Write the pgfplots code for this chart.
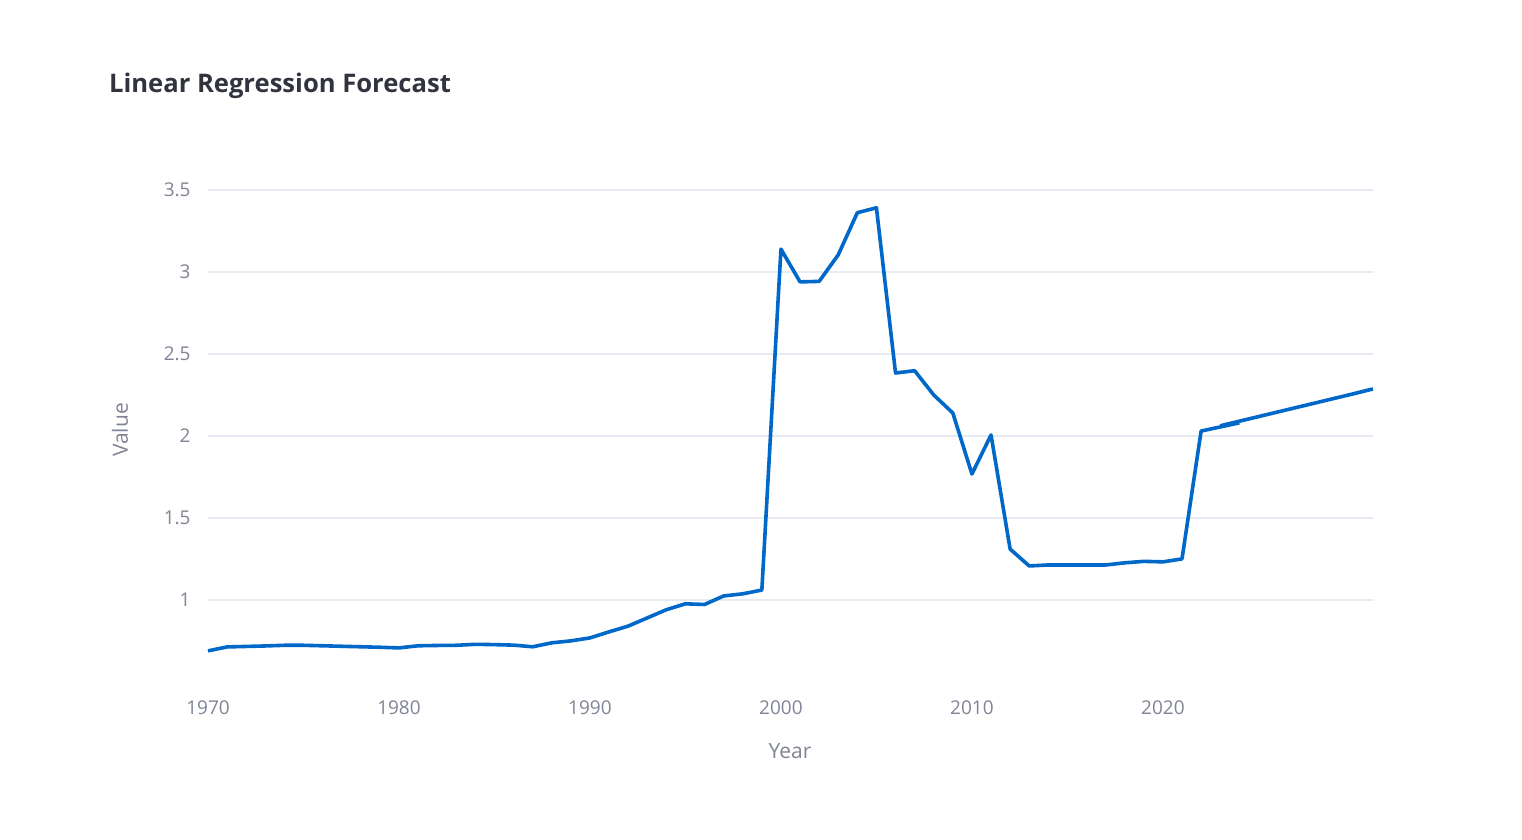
\documentclass[border=0pt]{standalone}
\usepackage{pgfplots}
\pgfplotsset{compat=1.18}
\usepackage{fontspec}
\setmainfont{Open Sans}

\definecolor{lineblue}{RGB}{0,104,201}
\definecolor{gridgray}{RGB}{230,234,241}
\definecolor{ticktext}{RGB}{128,132,149}
\definecolor{titletext}{RGB}{49,51,63}

% historical values
\pgfplotstableread{
year value
1970 0.689
1971 0.713
1972 0.716
1973 0.719
1974 0.723
1975 0.723
1976 0.720
1977 0.717
1978 0.714
1979 0.711
1980 0.707
1981 0.720
1982 0.722
1983 0.723
1984 0.729
1985 0.727
1986 0.724
1987 0.714
1988 0.738
1989 0.750
1990 0.768
1991 0.805
1992 0.840
1993 0.890
1994 0.940
1995 0.976
1996 0.972
1997 1.024
1998 1.037
1999 1.060
2000 3.140
2001 2.940
2002 2.943
2003 3.105
2004 3.362
2005 3.392
2006 2.384
2007 2.398
2008 2.250
2009 2.140
2010 1.768
2011 2.006
2012 1.310
2013 1.207
2014 1.213
2015 1.213
2016 1.213
2017 1.213
2018 1.226
2019 1.235
2020 1.232
2021 1.250
2022 2.030
2023 2.055
2024 2.080
}\histdata

% forecast values
\pgfplotstableread{
year value
2023 2.062
2024 2.090
2025 2.118
2026 2.146
2027 2.174
2028 2.202
2029 2.230
2030 2.258
2031 2.287
}\forecastdata

\begin{document}
\begin{tikzpicture}
    \path (0,0) rectangle (761pt,420pt);

    \begin{axis}[
        at={(104pt,83.5pt)}, anchor=south west,
        scale only axis,
        width=582.5pt, height=243.5pt,
        xmin=1970, xmax=2031,
        ymin=0.554, ymax=3.525,
        axis line style={draw=none},
        major tick length=0pt,
        xtick={1970,1980,...,2020},
        ytick={1,1.5,...,3.5},
        xticklabel={\pgfmathprintnumber[int detect,1000 sep={}]{\tick}},
        yticklabel={\pgfmathprintnumber{\tick}},
        /pgf/number format/assume math mode=true,
        ymajorgrids,
        grid style={gridgray, line width=0.8pt},
        tick label style={font=\fontsize{9.5}{11}\selectfont, text=ticktext},
        yticklabel style={inner sep=0pt, xshift=-8.5pt},
        xticklabel style={inner sep=0pt, yshift=-13.5pt},
        clip=false,
    ]
        \addplot[lineblue, line width=1.8pt, line join=round] table[x=year, y=value] {\histdata};
        \addplot[lineblue, line width=1.8pt, line join=round] table[x=year, y=value] {\forecastdata};
    \end{axis}

    \node[anchor=base west, text=titletext, font=\fontsize{12.8}{15}\selectfont\bfseries]
        at (51pt,373.5pt) {Linear Regression Forecast};
    \node[rotate=90, text=ticktext, font=\fontsize{10.5}{12}\selectfont]
        at (60pt,205pt) {Value};
    \node[text=ticktext, font=\fontsize{10.5}{12}\selectfont]
        at (395pt,44.5pt) {Year};
\end{tikzpicture}
\end{document}
